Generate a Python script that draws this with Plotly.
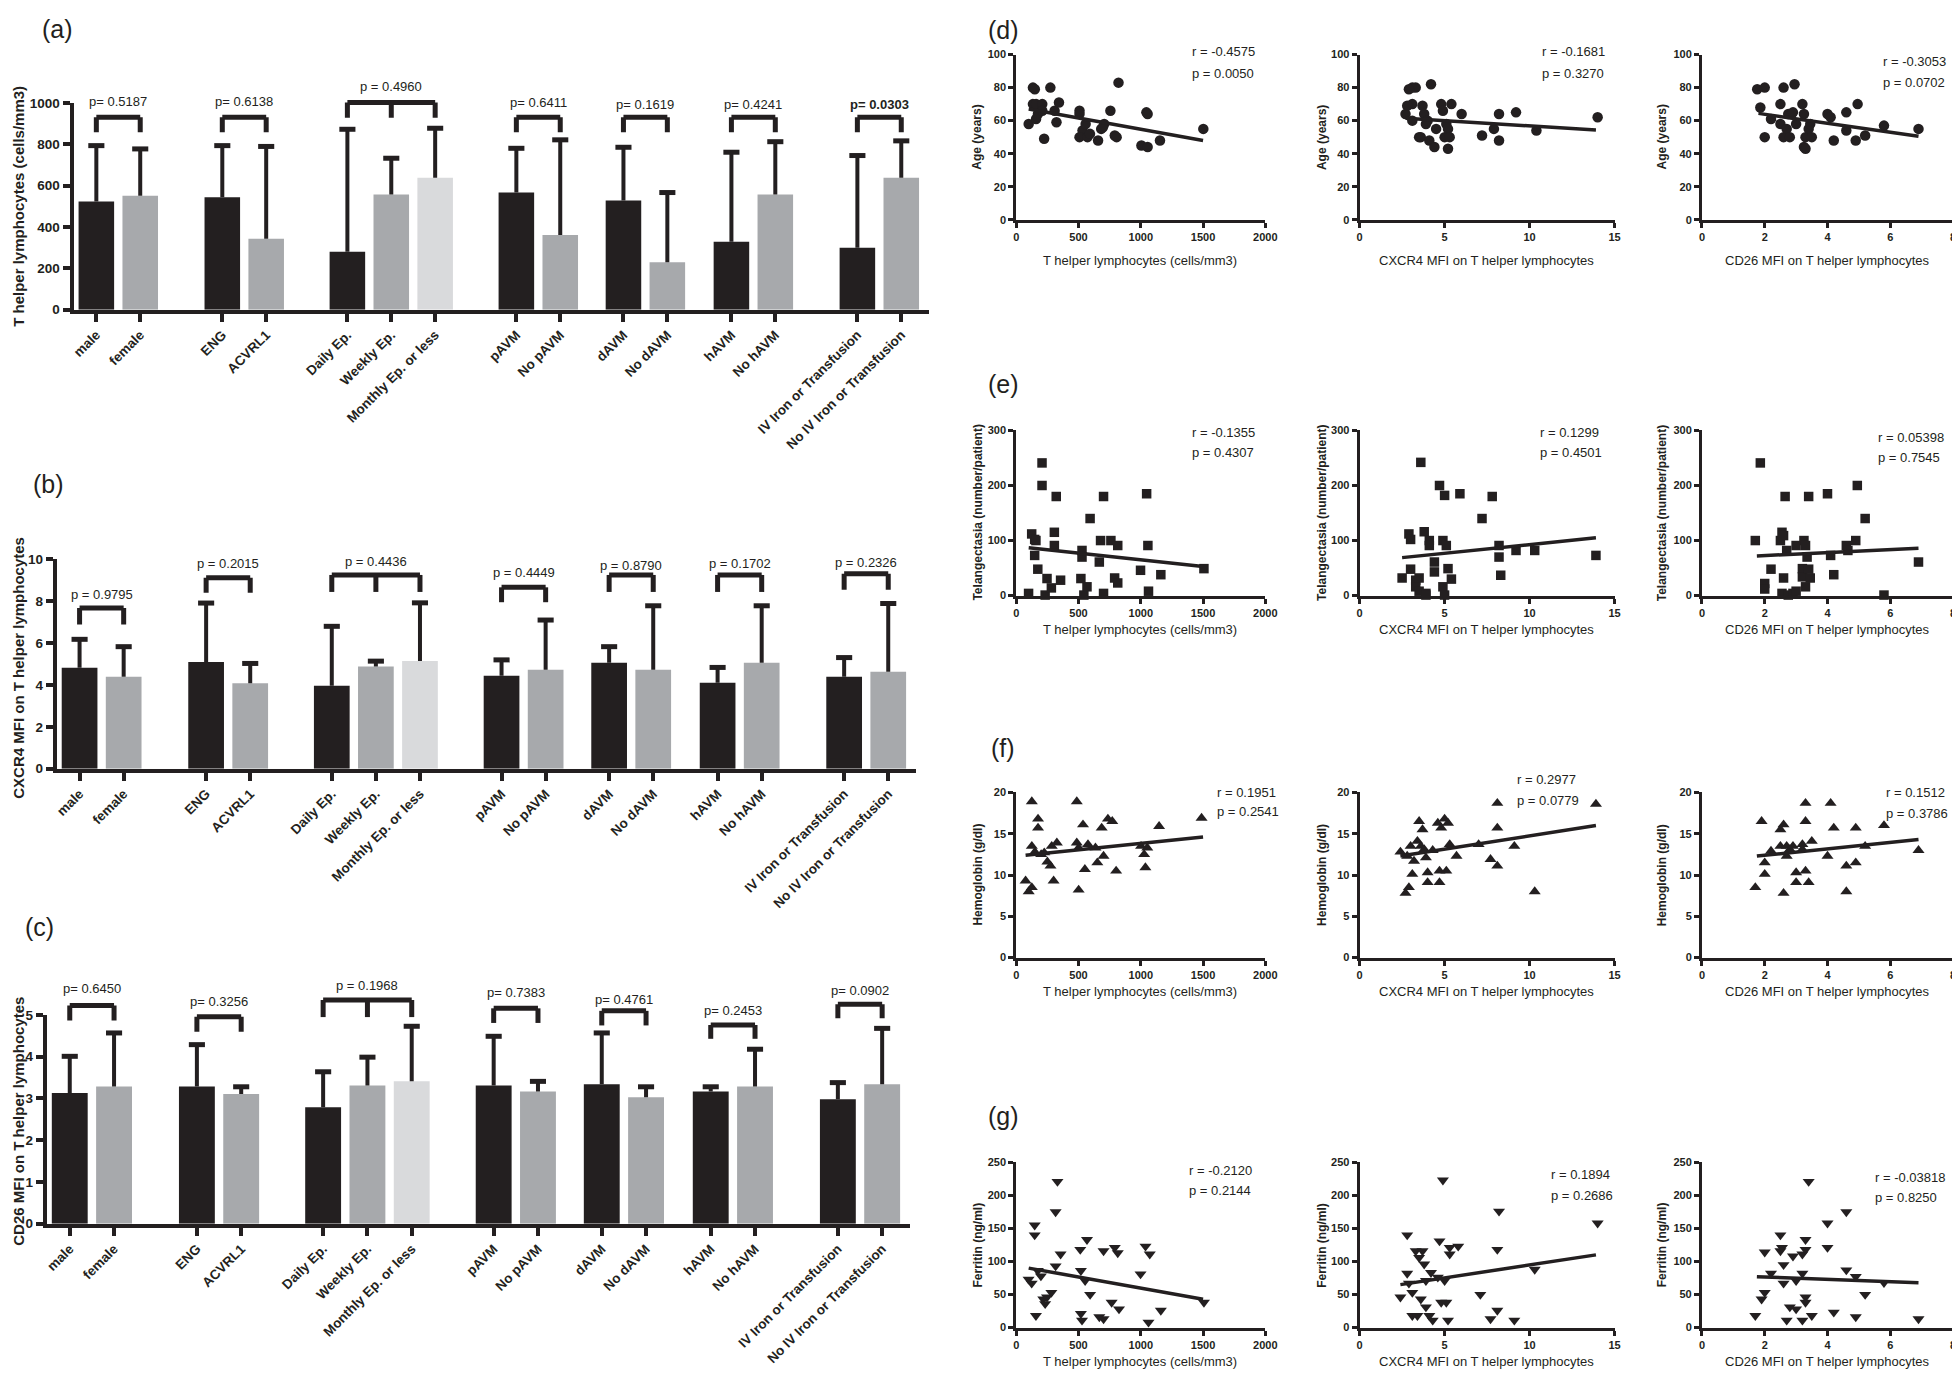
import plotly.graph_objects as go
import numpy as np

W, H = 1960, 1379
DARK = '#231f20'
GRAY = '#a7a9ac'
LIGHT = '#d9dadc'
FONT = 'Liberation Sans, Arial, Helvetica, sans-serif'

# ---------------- bar panel data ----------------
categories = ['male', 'female', 'ENG', 'ACVRL1', 'Daily Ep.', 'Weekly Ep.', 'Monthly Ep. or less',
              'pAVM', 'No pAVM', 'dAVM', 'No dAVM', 'hAVM', 'No hAVM',
              'IV Iron or Transfusion', 'No IV Iron or Transfusion']
group_sizes = [2, 2, 3, 2, 2, 2, 2]
bar_shade = ['d', 'g', 'd', 'g', 'd', 'g', 'l', 'd', 'g', 'd', 'g', 'd', 'g', 'd', 'g']

th_mean = [524, 552, 544, 343, 281, 557, 638, 567, 362, 529, 230, 329, 557, 300, 638]
th_sd = [270, 226, 250, 447, 592, 176, 240, 214, 460, 257, 337, 433, 256, 446, 179]
th_p = ['p= 0.5187', 'p= 0.6138', 'p = 0.4960', 'p= 0.6411', 'p= 0.1619', 'p= 0.4241', '<b>p= 0.0303</b>']
th_bracket_top = [931, 931, 1003, 931, 931, 931, 931]
th_bracket_leg = [859, 859, 929, 859, 859, 859, 859]
th_p_y = [1008, 1008, 1079, 1003, 995, 995, 992]

cx_mean = [4.81, 4.38, 5.09, 4.07, 3.96, 4.87, 5.14, 4.43, 4.72, 5.05, 4.72, 4.10, 5.05, 4.38, 4.62]
cx_sd = [1.36, 1.44, 2.81, 0.95, 2.83, 0.26, 2.77, 0.76, 2.37, 0.77, 3.05, 0.73, 2.72, 0.92, 3.26]
cx_p = ['p = 0.9795', 'p = 0.2015', 'p = 0.4436', 'p = 0.4449', 'p = 0.8790', 'p = 0.1702', 'p = 0.2326']
cx_bracket_top = [7.66, 9.11, 9.24, 8.65, 9.24, 9.24, 9.30]
cx_bracket_leg = [6.88, 8.39, 8.43, 7.94, 8.43, 8.43, 8.54]
cx_p_y = [8.30, 9.81, 9.89, 9.37, 9.70, 9.78, 9.84]

cd_mean = [3.13, 3.29, 3.29, 3.11, 2.79, 3.31, 3.41, 3.31, 3.17, 3.34, 3.03, 3.17, 3.29, 2.98, 3.34]
cd_sd = [0.88, 1.28, 1.00, 0.17, 0.85, 0.68, 1.32, 1.18, 0.24, 1.23, 0.25, 0.11, 0.89, 0.40, 1.34]
cd_p = ['p= 0.6450', 'p= 0.3256', 'p = 0.1968', 'p= 0.7383', 'p= 0.4761', 'p= 0.2453', 'p= 0.0902']
cd_bracket_top = [5.23, 4.96, 5.36, 5.16, 5.10, 4.76, 5.26]
cd_bracket_leg = [4.87, 4.60, 4.95, 4.81, 4.75, 4.43, 4.92]
cd_p_y = [5.63, 5.33, 5.70, 5.55, 5.38, 5.10, 5.58]

# ---------------- scatter data ----------------
d1_x = [100, 134, 149, 134, 159, 174, 159, 209, 209, 224, 274, 308, 323, 343, 508, 508, 532, 508, 557, 572,
        592, 657, 682, 706, 696, 756, 791, 806, 821, 1005, 1055, 1045, 1055, 1154, 1502]
d1_y = [58, 80, 79, 70, 70, 64, 61, 70, 66, 49, 80, 66, 59, 71, 66, 64, 54, 50, 58, 50,
        52, 48, 55, 58, 56, 66, 51, 50, 83, 45, 44, 65, 64, 48, 55]
d2_x = [2.7, 3.1, 3.1, 3.3, 3.1, 3.5, 3.6, 3.7, 3.8, 3.9, 4.0, 4.1, 4.2, 4.4, 4.5, 4.8, 4.9, 5.0, 5.1, 5.2,
        5.2, 5.3, 5.4, 6.0, 7.2, 7.9, 8.2, 8.2, 9.2, 10.4, 14.0, 2.9, 2.8]
d2_y = [64, 60, 80, 80, 70, 50, 50, 69, 64, 58, 60, 48, 82, 44, 55, 70, 66, 50, 58, 43,
        55, 50, 70, 64, 51, 55, 64, 48, 65, 54, 62, 79, 69]
d3_x = [1.76, 2.0, 1.86, 2.0, 2.2, 2.5, 2.5, 2.6, 2.6, 2.7, 2.75, 2.8, 2.85, 2.9, 2.95, 3.0, 3.2, 3.25, 3.25, 3.3,
        3.3, 3.4, 3.45, 3.5, 4.0, 4.1, 4.2, 4.6, 4.6, 4.9, 4.96, 5.2, 5.8, 6.9]
d3_y = [79, 80, 68, 50, 61, 70, 58, 80, 50, 55, 64, 50, 64, 65, 82, 58, 70, 64, 44, 43,
        50, 55, 58, 50, 64, 62, 48, 65, 54, 48, 70, 51, 57, 55]

e1_x = [99, 124, 148, 158, 148, 173, 207, 207, 232, 247, 282, 321, 306, 306, 356, 519, 528, 528, 543, 568,
        593, 667, 677, 701, 701, 760, 790, 815, 815, 998, 1047, 1057, 1062, 1161, 1507]
e1_y = [4, 112, 102, 100, 73, 48, 241, 200, 1, 31, 14, 180, 115, 91, 28, 31, 82, 70, 1, 16,
        140, 61, 100, 180, 4, 100, 32, 91, 23, 46, 185, 91, 8, 38, 49]
e2_x = [2.5, 2.9, 3.0, 3.0, 3.3, 3.3, 3.5, 3.5, 3.6, 3.8, 3.9, 3.9, 4.1, 4.1, 4.4, 4.4, 4.7, 4.9, 4.9, 5.0,
        5.0, 5.1, 5.2, 5.4, 5.9, 7.2, 7.8, 8.2, 8.2, 8.3, 9.2, 10.3, 13.9]
e2_y = [32, 112, 102, 48, 28, 16, 8, 32, 242, 116, 4, 1, 100, 91, 61, 43, 200, 100, 16, 182,
        1, 91, 49, 30, 185, 140, 180, 91, 70, 37, 82, 82, 73]
e3_x = [1.7, 1.86, 2.0, 2.0, 2.2, 2.5, 2.55, 2.6, 2.6, 2.65, 2.7, 2.55, 2.75, 2.9, 3.0, 3.0, 3.2, 3.2, 3.25, 3.3,
        3.3, 3.35, 3.4, 3.4, 3.45, 4.0, 4.1, 4.2, 4.6, 4.65, 4.9, 4.95, 5.2, 5.8, 6.9]
e3_y = [100, 241, 22, 12, 48, 100, 115, 32, 109, 180, 82, 4, 1, 4, 91, 8, 49, 34, 100, 91,
        16, 70, 48, 180, 32, 185, 73, 38, 91, 82, 100, 200, 140, 1, 61]

f1_x = [75, 100, 125, 125, 125, 150, 175, 175, 200, 225, 250, 275, 285, 300, 326, 486, 486, 501, 501, 536,
        551, 576, 636, 651, 686, 701, 736, 771, 802, 1002, 1027, 1037, 1052, 1147, 1488]
f1_y = [9.3, 8.0, 8.5, 18.9, 13.5, 12.8, 15.7, 16.8, 12.5, 12.7, 11.6, 11.1, 13.5, 9.3, 13.9, 18.9, 13.9, 8.2, 13.3, 16.1,
        10.7, 13.7, 13.3, 11.5, 15.7, 12.3, 16.8, 16.5, 10.5, 13.5, 12.5, 10.9, 13.3, 15.9, 16.9]
f2_x = [2.4, 2.7, 2.9, 2.8, 3.0, 3.1, 3.2, 3.4, 3.5, 3.6, 3.7, 3.8, 3.9, 4.0, 4.0, 4.3, 4.6, 4.7, 4.7, 4.8,
        5.0, 5.1, 5.2, 5.3, 5.7, 7.0, 7.7, 8.1, 8.1, 8.1, 9.1, 10.3, 13.9]
f2_y = [12.8, 7.8, 8.5, 12.3, 13.5, 10.1, 11.7, 14.1, 16.5, 13.5, 15.5, 13.1, 12.1, 9.1, 10.3, 13.0, 16.3, 10.5, 9.1, 15.7,
        16.8, 10.5, 16.3, 13.7, 12.3, 13.7, 11.9, 18.7, 15.7, 11.1, 13.5, 8.0, 18.6]
f3_x = [1.7, 1.9, 2.0, 2.0, 2.2, 2.5, 2.5, 2.6, 2.6, 2.7, 2.7, 2.8, 2.9, 3.0, 3.0, 3.2, 3.2, 3.3, 3.3, 3.3,
        3.4, 3.5, 4.0, 4.1, 4.2, 4.6, 4.6, 4.9, 4.9, 5.2, 5.8, 6.9]
f3_y = [8.5, 16.5, 11.5, 10.1, 12.9, 13.5, 15.5, 16.1, 7.8, 13.5, 12.3, 13.1, 13.5, 10.3, 9.1, 13.7, 13.1, 18.7, 16.5, 10.5,
        9.1, 14.1, 12.3, 18.7, 15.7, 11.1, 8.0, 11.5, 15.7, 13.5, 16.0, 13.0]

g1_x = [99, 124, 148, 148, 158, 173, 198, 217, 232, 247, 282, 316, 316, 331, 356, 514, 519, 519, 528, 553,
        568, 593, 667, 701, 701, 766, 791, 815, 825, 998, 1038, 1072, 1062, 1161, 1507]
g1_y = [73, 67, 155, 140, 18, 86, 78, 43, 36, 46, 53, 93, 175, 221, 111, 118, 86, 21, 11, 71,
        133, 50, 16, 13, 116, 38, 121, 113, 28, 81, 123, 111, 8, 26, 38]
g2_x = [2.4, 2.8, 2.8, 2.9, 3.1, 3.1, 3.3, 3.4, 3.5, 3.6, 3.7, 3.8, 3.9, 3.9, 4.1, 4.2, 4.3, 4.6, 4.7, 4.8,
        4.9, 5.0, 5.1, 5.2, 5.3, 5.3, 5.8, 7.1, 7.7, 8.1, 8.1, 8.2, 9.1, 10.3, 14.0]
g2_y = [46, 140, 82, 67, 53, 18, 116, 18, 106, 43, 116, 96, 71, 31, 18, 83, 11, 76, 131, 38,
        223, 71, 38, 11, 111, 121, 123, 50, 13, 118, 26, 176, 11, 88, 158]
g3_x = [1.7, 1.9, 2.0, 2.0, 2.2, 2.5, 2.5, 2.55, 2.6, 2.6, 2.7, 2.8, 2.9, 3.0, 3.0, 3.2, 3.2, 3.2, 3.3, 3.3,
        3.3, 3.3, 3.5, 3.4, 4.0, 4.0, 4.2, 4.6, 4.6, 4.9, 4.9, 5.2, 5.8, 6.9]
g3_y = [18, 43, 114, 53, 82, 140, 116, 121, 95, 67, 11, 31, 108, 28, 71, 82, 111, 11, 133, 118,
        46, 38, 18, 221, 158, 121, 23, 87, 175, 77, 16, 50, 68, 13]

# regression lines (end points)
fit_x = {'d1': [100, 1500], 'd2': [2.7, 13.9], 'd3': [1.8, 6.9],
         'e1': [100, 1500], 'e2': [2.5, 13.9], 'e3': [1.75, 6.9],
         'f1': [75, 1500], 'f2': [2.4, 13.9], 'f3': [1.75, 6.9],
         'g1': [100, 1500], 'g2': [2.4, 13.9], 'g3': [1.75, 6.9]}
fit_y = {'d1': [67, 48], 'd2': [61.4, 54.4], 'd3': [64.4, 50.5],
         'e1': [87, 53], 'e2': [69, 105], 'e3': [72, 86],
         'f1': [12.4, 14.6], 'f2': [12.3, 16.0], 'f3': [12.3, 14.3],
         'g1': [90, 43], 'g2': [65, 110], 'g3': [77, 68]}

stats_text = {'d1': ['r = -0.4575', 'p = 0.0050'], 'd2': ['r = -0.1681', 'p = 0.3270'], 'd3': ['r = -0.3053', 'p = 0.0702'],
              'e1': ['r = -0.1355', 'p = 0.4307'], 'e2': ['r = 0.1299', 'p = 0.4501'], 'e3': ['r = 0.05398', 'p = 0.7545'],
              'f1': ['r = 0.1951', 'p = 0.2541'], 'f2': ['r = 0.2977', 'p = 0.0779'], 'f3': ['r = 0.1512', 'p = 0.3786'],
              'g1': ['r = -0.2120', 'p = 0.2144'], 'g2': ['r = 0.1894', 'p = 0.2686'], 'g3': ['r = -0.03818', 'p = 0.8250']}

scatter_x_titles = ['T helper lymphocytes (cells/mm3)', 'CXCR4 MFI on T helper lymphocytes', 'CD26 MFI on T helper lymphocytes']
scatter_y_titles = ['Age (years)', 'Telangectasia (number/patient)', 'Hemoglobin (g/dl)', 'Ferritin (ng/ml)']

# ---------------- layout helpers ----------------
def xd(a, b):
    return [a / W, b / W]


def yd(top, bot):
    return [1 - bot / H, 1 - top / H]


layout = dict(width=W, height=H, margin=dict(l=0, r=0, t=0, b=0),
              paper_bgcolor='white', plot_bgcolor='white', showlegend=False,
              font=dict(family=FONT, color=DARK))
annotations = []
shapes = []
fig = go.Figure()

# bar positions from group structure (layout)
group_gaps = [1.87, 1.85, 1.85, 1.44, 1.46, 1.87]
pos = []
groups = []
cur = 0.0
for gi, gs in enumerate(group_sizes):
    idx = []
    for j in range(gs):
        pos.append(cur + j * 1.0)
        idx.append(len(pos) - 1)
    groups.append(idx)
    cur = pos[-1] + (group_gaps[gi] if gi < len(group_gaps) else 0)
shade_map = {'d': DARK, 'g': GRAY, 'l': LIGHT}
bar_colors = [shade_map[s] for s in bar_shade]

bar_panels = [
    dict(mean=th_mean, sd=th_sd, p=th_p, top=th_bracket_top, leg=th_bracket_leg, py=th_p_y,
         ymax=1000, dtick=200, xdom=(63, 925), ydom=(89, 298),
         title='T helper lymphocytes (cells/mm3)', title_y=193, label='(a)', label_xy=(47, 14)),
    dict(mean=cx_mean, sd=cx_sd, p=cx_p, top=cx_bracket_top, leg=cx_bracket_leg, py=cx_p_y,
         ymax=10, dtick=2, xdom=(46, 912), ydom=(550, 762),
         title='CXCR4 MFI on T helper lymphocytes', title_y=660, label='(b)', label_xy=(38, 474)),
    dict(mean=cd_mean, sd=cd_sd, p=cd_p, top=cd_bracket_top, leg=cd_bracket_leg, py=cd_p_y,
         ymax=5, dtick=1, xdom=(36, 906), ydom=(1011, 1222),
         title='CD26 MFI on T helper lymphocytes', title_y=1118, label='(c)', label_xy=(29, 922)),
]

tick_font = dict(family=FONT, size=13.5, color=DARK, weight='bold')

for k, P in enumerate(bar_panels):
    n = k + 1
    xa = 'x' if n == 1 else f'x{n}'
    ya = 'y' if n == 1 else f'y{n}'
    xkey = 'xaxis' if n == 1 else f'xaxis{n}'
    ykey = 'yaxis' if n == 1 else f'yaxis{n}'
    fig.add_trace(go.Bar(
        x=pos, y=P['mean'], width=0.81, xaxis=xa, yaxis=ya,
        marker=dict(color=bar_colors, line=dict(width=0)),
        error_y=dict(type='data', symmetric=False, array=P['sd'], arrayminus=[0] * len(P['sd']),
                     width=0, thickness=4, color=DARK)))
    fig.add_trace(go.Scatter(
        x=pos, y=list(np.add(P['mean'], P['sd'])), mode='markers', xaxis=xa, yaxis=ya, cliponaxis=False,
        marker=dict(symbol='line-ew', size=11.5, color=DARK, line=dict(width=5, color=DARK))))
    layout[xkey] = dict(domain=xd(*P['xdom']), anchor=ya, range=[-0.52, 18.97],
                        tickmode='array', tickvals=pos, ticktext=categories, tickangle=-45,
                        ticks='outside', ticklen=8, tickwidth=4, tickcolor=DARK,
                        showline=True, linewidth=4, linecolor=DARK, showgrid=False, zeroline=False,
                        tickfont=tick_font)
    layout[ykey] = dict(domain=yd(*P['ydom']), anchor=xa, range=[0, P['ymax']],
                        tickmode='linear', tick0=0, dtick=P['dtick'],
                        ticks='outside', ticklen=7, tickwidth=4, tickcolor=DARK,
                        showline=True, linewidth=4, linecolor=DARK, showgrid=False, zeroline=False,
                        tickfont=tick_font)
    ymax = P['ymax']
    for gi, idx in enumerate(groups):
        xs = [pos[i] for i in idx]
        top = P['top'][gi] / ymax
        leg = P['leg'][gi] / ymax
        shapes.append(dict(type='line', xref=xa, yref=f'{ya} domain', x0=xs[0], x1=xs[-1], y0=top, y1=top,
                           line=dict(color=DARK, width=5)))
        for xv in xs:
            shapes.append(dict(type='line', xref=xa, yref=f'{ya} domain', x0=xv, x1=xv, y0=leg, y1=top,
                               line=dict(color=DARK, width=5)))
        annotations.append(dict(x=float(np.mean(xs)), y=P['py'][gi] / ymax, xref=xa, yref=f'{ya} domain',
                                text=P['p'][gi], showarrow=False, xanchor='center', yanchor='middle',
                                font=dict(family=FONT, size=13, color=DARK)))
    annotations.append(dict(x=8 / W, y=1 - P['title_y'] / H, xref='paper', yref='paper', text=P['title'],
                            textangle=-90, showarrow=False, xanchor='center', yanchor='middle',
                            font=dict(family=FONT, size=15, color=DARK, weight='bold')))
    annotations.append(dict(x=P['label_xy'][0] / W, y=1 - P['label_xy'][1] / H, xref='paper', yref='paper',
                            text=P['label'], showarrow=False, xanchor='center', yanchor='middle',
                            font=dict(family=FONT, size=25, color=DARK)))

# ---------------- scatter panels ----------------
col_x = [(1013, 1264), (1359, 1616), (1704, 1957)]
col_range = [(2000, 500), (15, 5), (8, 2)]
col_ytitle_x = [974, 1321, 1664]
col_xtitle_cx = [1138, 1487, 1830]
rows = [
    dict(key='d', dom=(40, 207), ymax=100, dtick=20, symbol='circle', msize=10.5, xtitle_y=248,
         label_y=15, stat_xy=[(1188, 37, 59), (1541, 37, 59), (1884, 47, 68)]),
    dict(key='e', dom=(420, 587), ymax=300, dtick=100, symbol='square', msize=9.5, xtitle_y=621,
         label_y=373, stat_xy=[(1188, 422, 442), (1539, 422, 442), (1879, 427, 447)]),
    dict(key='f', dom=(786, 953), ymax=20, dtick=5, symbol='triangle-up', msize=10.5, xtitle_y=987,
         label_y=741, stat_xy=[(1213, 786, 805), (1516, 773, 794), (1887, 786, 807)]),
    dict(key='g', dom=(1160, 1327), ymax=250, dtick=50, symbol='triangle-down', msize=10.5, xtitle_y=1361,
         label_y=1113, stat_xy=[(1185, 1168, 1188), (1550, 1172, 1193), (1876, 1175, 1195)]),
]
scatter_data = {'d1': (d1_x, d1_y), 'd2': (d2_x, d2_y), 'd3': (d3_x, d3_y),
                'e1': (e1_x, e1_y), 'e2': (e2_x, e2_y), 'e3': (e3_x, e3_y),
                'f1': (f1_x, f1_y), 'f2': (f2_x, f2_y), 'f3': (f3_x, f3_y),
                'g1': (g1_x, g1_y), 'g2': (g2_x, g2_y), 'g3': (g3_x, g3_y)}

sc_tick_font = dict(family=FONT, size=11, color=DARK, weight='bold')
n = 3
for ri, R in enumerate(rows):
    for ci in range(3):
        n += 1
        name = f"{R['key']}{ci + 1}"
        xa, ya = f'x{n}', f'y{n}'
        xs, ys = scatter_data[name]
        fig.add_trace(go.Scatter(x=xs, y=ys, mode='markers', xaxis=xa, yaxis=ya, cliponaxis=False,
                                 marker=dict(symbol=R['symbol'], size=R['msize'], color=DARK,
                                             line=dict(width=0))))
        fig.add_trace(go.Scatter(x=fit_x[name], y=fit_y[name], mode='lines', xaxis=xa, yaxis=ya,
                                 line=dict(color=DARK, width=3.5)))
        xmax, xdt = col_range[ci]
        layout[f'xaxis{n}'] = dict(domain=xd(*col_x[ci]), anchor=ya, range=[0, xmax], tickmode='linear',
                                   tick0=0, dtick=xdt, ticks='outside', ticklen=5, tickwidth=3, tickcolor=DARK,
                                   showline=True, linewidth=3, linecolor=DARK, showgrid=False, zeroline=False,
                                   tickfont=sc_tick_font)
        layout[f'yaxis{n}'] = dict(domain=yd(*R['dom']), anchor=xa, range=[0, R['ymax']], tickmode='linear',
                                   tick0=0, dtick=R['dtick'], ticks='outside', ticklen=5, tickwidth=3,
                                   tickcolor=DARK, showline=True, linewidth=3, linecolor=DARK, showgrid=False,
                                   zeroline=False, tickfont=sc_tick_font)
        sx, sy1, sy2 = R['stat_xy'][ci]
        for txt, yy in zip(stats_text[name], (sy1, sy2)):
            annotations.append(dict(x=sx / W, y=1 - yy / H, xref='paper', yref='paper', text=txt,
                                    showarrow=False, xanchor='left', yanchor='middle',
                                    font=dict(family=FONT, size=13, color=DARK)))
        annotations.append(dict(x=col_xtitle_cx[ci] / W, y=1 - R['xtitle_y'] / H, xref='paper', yref='paper',
                                text=scatter_x_titles[ci], showarrow=False, xanchor='center', yanchor='middle',
                                font=dict(family=FONT, size=13, color=DARK)))
        ymid = (R['dom'][0] + R['dom'][1]) / 2
        annotations.append(dict(x=col_ytitle_x[ci] / W, y=1 - ymid / H, xref='paper', yref='paper',
                                text=scatter_y_titles[ri], textangle=-90, showarrow=False,
                                xanchor='center', yanchor='middle',
                                font=dict(family=FONT, size=12, color=DARK, weight='bold')))
    annotations.append(dict(x=1000 / W, y=1 - R['label_y'] / H, xref='paper', yref='paper',
                            text=f"({R['key']})", showarrow=False, xanchor='center', yanchor='middle',
                            font=dict(family=FONT, size=25, color=DARK)))

layout['annotations'] = annotations
layout['shapes'] = shapes
fig.update_layout(**layout)
fig.write_html('out.html')
